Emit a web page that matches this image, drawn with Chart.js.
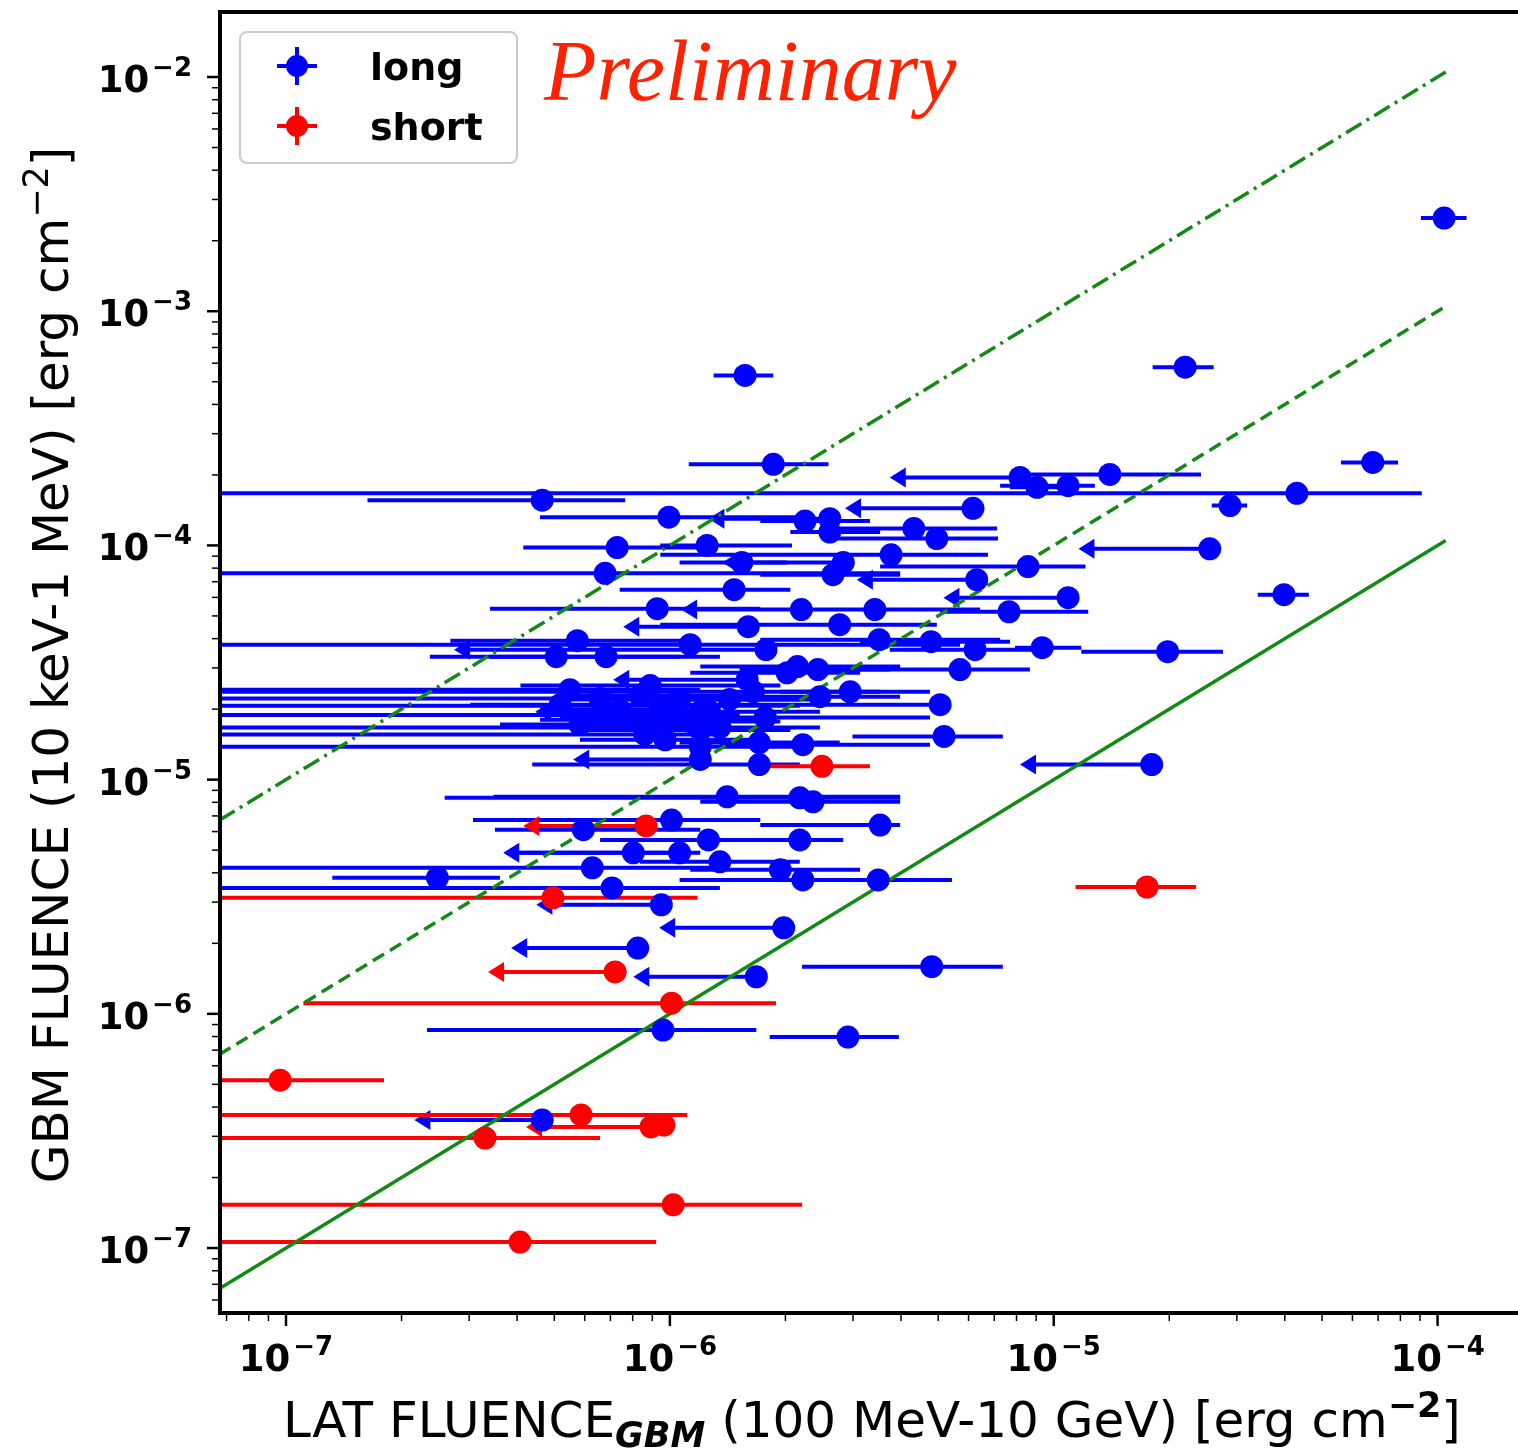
<!DOCTYPE html>
<html>
<head>
<meta charset="utf-8">
<script src="https://cdn.jsdelivr.net/npm/chart.js@4.4.1/dist/chart.umd.min.js"></script>
<style>
  html, body { margin: 0; padding: 0; background: #fff; }
</style>
</head>
<body>
<canvas id="chart" width="1518" height="1451"></canvas>
<script>
// long bursts: marker position, horizontal error range, upper limit (arrow) flag
const longX = [1.04e-4, 2.20e-5, 1.57e-6, 6.78e-5, 1.86e-6, 1.40e-5, 8.17e-6, 9.05e-6, 1.09e-5, 4.30e-5,
  4.65e-7, 2.88e-5, 6.16e-6, 9.94e-7, 2.61e-6, 2.25e-6, 2.61e-6, 4.32e-6, 4.96e-6, 1.25e-6,
  7.29e-7, 3.77e-6, 1.54e-6, 2.83e-6, 2.66e-6, 6.30e-6, 8.57e-6, 6.78e-7, 2.55e-5, 1.47e-6,
  9.27e-7, 2.20e-6, 3.42e-6, 7.65e-6, 1.09e-5, 3.98e-5, 9.33e-6, 1.98e-5, 1.60e-6, 2.77e-6,
  5.74e-7, 5.06e-7, 6.82e-7, 1.13e-6, 1.78e-6, 3.51e-6, 4.79e-6, 6.24e-6, 5.70e-6, 2.15e-6,
  2.43e-6, 2.02e-6, 1.59e-6, 1.65e-6, 2.95e-6, 2.46e-6, 5.06e-6, 1.77e-6, 1.20e-6, 6.58e-7,
  8.36e-7, 9.44e-7, 7.40e-7, 1.13e-6, 5.83e-7, 1.35e-6, 8.60e-7, 9.72e-7, 1.20e-6, 1.71e-6,
  2.22e-6, 5.18e-6, 1.20e-6, 1.71e-6, 1.80e-5, 1.41e-6, 2.18e-6, 2.36e-6, 1.01e-6, 3.53e-6,
  5.95e-7, 1.26e-6, 2.18e-6, 8.03e-7, 1.06e-6, 1.35e-6, 6.28e-7, 1.94e-6, 2.48e-7, 2.22e-6,
  3.49e-6, 7.07e-7, 9.50e-7, 1.98e-6, 8.25e-7, 1.68e-6, 4.81e-6, 9.60e-7, 2.91e-6, 4.65e-7,
  5.18e-7, 6.58e-7, 8.36e-7, 1.06e-6, 1.27e-6, 1.43e-6, 5.49e-7, 1.20e-6, 8.89e-7]
const longY = [2.50e-3, 5.77e-4, 5.32e-4, 2.26e-4, 2.22e-4, 2.01e-4, 1.95e-4, 1.77e-4, 1.80e-4, 1.67e-4,
  1.56e-4, 1.48e-4, 1.44e-4, 1.32e-4, 1.30e-4, 1.27e-4, 1.14e-4, 1.18e-4, 1.07e-4, 1.00e-4,
  9.79e-5, 9.12e-5, 8.45e-5, 8.45e-5, 7.50e-5, 7.14e-5, 8.12e-5, 7.60e-5, 9.67e-5, 6.47e-5,
  5.37e-5, 5.32e-5, 5.32e-5, 5.21e-5, 5.98e-5, 6.16e-5, 3.66e-5, 3.52e-5, 4.50e-5, 4.59e-5,
  3.92e-5, 3.35e-5, 3.35e-5, 3.77e-5, 3.59e-5, 3.96e-5, 3.88e-5, 3.59e-5, 2.95e-5, 3.04e-5,
  2.95e-5, 2.86e-5, 2.67e-5, 2.37e-5, 2.37e-5, 2.26e-5, 2.09e-5, 1.84e-5, 1.95e-5, 2.22e-5,
  2.28e-5, 2.07e-5, 1.99e-5, 1.77e-5, 1.72e-5, 1.67e-5, 1.56e-5, 1.48e-5, 1.38e-5, 1.44e-5,
  1.41e-5, 1.53e-5, 1.22e-5, 1.16e-5, 1.16e-5, 8.45e-6, 8.36e-6, 8.04e-6, 6.72e-6, 6.40e-6,
  6.11e-6, 5.53e-6, 5.53e-6, 4.87e-6, 4.87e-6, 4.46e-6, 4.20e-6, 4.12e-6, 3.81e-6, 3.73e-6,
  3.73e-6, 3.45e-6, 2.92e-6, 2.33e-6, 1.91e-6, 1.44e-6, 1.59e-6, 8.53e-7, 7.96e-7, 3.52e-7,
  2.09e-5, 1.89e-5, 1.80e-5, 2.20e-5, 1.95e-5, 2.20e-5, 2.42e-5, 1.63e-5, 2.52e-5]
const longXLo = [9.05e-5, 1.81e-5, 1.30e-6, 5.60e-5, 1.12e-6, 8.42e-6, 3.74e-6, 7.69e-6, 7.25e-6, 5e-8,
  1.63e-7, 2.58e-5, 2.86e-6, 4.59e-7, 1.26e-6, 1.72e-6, 2.06e-6, 2.77e-6, 2.74e-6, 9.44e-7,
  4.15e-7, 9.44e-7, 1.06e-6, 1.37e-6, 1.72e-6, 3.07e-6, 3.53e-6, 5e-8, 1.16e-5, 7.40e-7,
  3.40e-7, 1.07e-6, 2.18e-6, 5.06e-6, 5.16e-6, 3.40e-5, 7.93e-6, 1.18e-5, 7.56e-7, 9.44e-7,
  2.68e-7, 2.37e-7, 3.40e-7, 5e-8, 2.74e-7, 1.72e-6, 3.13e-6, 3.74e-6, 2.95e-6, 1.20e-6,
  1.52e-6, 1.13e-6, 7.12e-7, 5e-8, 1.94e-6, 1.35e-6, 9.44e-7, 5.18e-7, 4.46e-7, 5e-8,
  5.18e-7, 5e-8, 4.59e-7, 6.20e-7, 3.61e-7, 5e-8, 5e-8, 5.83e-7, 5e-8, 1.06e-6,
  1.35e-6, 2.99e-6, 5.60e-7, 4.38e-7, 8.17e-6, 3.47e-7, 2.59e-7, 1.20e-6, 3.07e-7, 1.72e-6,
  3.50e-7, 6.58e-7, 1.54e-6, 4.08e-7, 3.68e-7, 8.36e-7, 5e-8, 1.13e-6, 1.32e-7, 1.06e-6,
  2.18e-6, 5e-8, 4.49e-7, 9.38e-7, 3.86e-7, 8.03e-7, 2.21e-6, 2.33e-7, 1.82e-6, 2.16e-7,
  3.02e-7, 5e-8, 4.59e-7, 5.18e-7, 6.58e-7, 8.36e-7, 5e-8, 5.83e-7, 4.08e-7]
const longXHi = [1.19e-4, 2.61e-5, 1.86e-6, 7.89e-5, 2.59e-6, 2.42e-5, 8.17e-6, 1.04e-5, 1.28e-5, 9.10e-5,
  7.65e-7, 3.19e-5, 6.16e-6, 2.18e-6, 2.61e-6, 3.32e-6, 3.53e-6, 7.12e-6, 7.16e-6, 2.08e-6,
  1.18e-6, 6.74e-6, 2.02e-6, 2.83e-6, 3.98e-6, 6.30e-6, 1.21e-5, 3.98e-6, 2.55e-5, 2.06e-6,
  1.72e-6, 2.20e-6, 6.43e-6, 1.23e-5, 1.09e-5, 4.62e-5, 1.18e-5, 2.76e-5, 1.60e-6, 4.96e-6,
  1.20e-6, 1.06e-6, 1.35e-6, 5.70e-6, 1.78e-6, 7.25e-6, 7.69e-6, 9.78e-6, 8.67e-6, 3.98e-6,
  3.74e-6, 3.13e-6, 1.59e-6, 3.53e-6, 4.76e-6, 3.98e-6, 5.37e-6, 4.76e-6, 1.20e-6, 1.43e-6,
  1.72e-6, 2.18e-6, 1.35e-6, 1.94e-6, 1.13e-6, 2.46e-6, 1.35e-6, 1.72e-6, 2.18e-6, 2.77e-6,
  4.76e-6, 7.37e-6, 1.20e-6, 2.18e-6, 1.80e-5, 3.98e-6, 3.98e-6, 3.98e-6, 1.72e-6, 3.98e-6,
  1.20e-6, 2.06e-6, 2.83e-6, 1.20e-6, 1.06e-6, 2.18e-6, 1.35e-6, 3.13e-6, 3.61e-7, 3.32e-6,
  5.43e-6, 1.35e-6, 9.50e-7, 1.98e-6, 8.25e-7, 1.68e-6, 7.37e-6, 1.68e-6, 3.95e-6, 4.65e-7,
  9.44e-7, 1.52e-6, 1.72e-6, 2.18e-6, 2.46e-6, 2.61e-6, 1.20e-6, 2.06e-6, 1.94e-6]
const longUL = [0, 0, 0, 0, 0, 0, 1, 0, 0, 0,
  0, 0, 1, 0, 1, 0, 0, 0, 0, 0,
  0, 0, 0, 1, 0, 1, 0, 0, 1, 0,
  0, 1, 0, 0, 1, 0, 0, 0, 1, 0,
  0, 0, 0, 0, 1, 0, 0, 0, 0, 0,
  0, 0, 1, 0, 0, 0, 0, 0, 1, 0,
  0, 0, 0, 0, 0, 0, 0, 0, 0, 0,
  0, 0, 1, 0, 1, 0, 0, 0, 0, 0,
  0, 0, 0, 0, 1, 0, 0, 0, 0, 0,
  0, 0, 1, 1, 1, 1, 0, 0, 0, 1,
  0, 0, 0, 0, 0, 0, 0, 0, 0]

// short bursts
const shortX = [2.49e-6, 1.75e-5, 8.67e-7, 4.96e-7, 7.20e-7, 1.01e-6, 9.65e-8, 5.87e-7, 8.93e-7, 9.65e-7, 3.30e-7, 1.02e-6, 4.07e-7]
const shortY = [1.14e-5, 3.48e-6, 6.34e-6, 3.13e-6, 1.51e-6, 1.11e-6, 5.21e-7, 3.70e-7, 3.29e-7, 3.35e-7, 2.95e-7, 1.53e-7, 1.06e-7]
const shortXLo = [1.82e-6, 1.14e-5, 4.15e-7, 5e-8, 3.36e-7, 1.11e-7, 5e-8, 5e-8, 4.22e-7, 9.65e-7, 5e-8, 5e-8, 5e-8]
const shortXHi = [3.32e-6, 2.35e-5, 8.67e-7, 1.18e-6, 7.20e-7, 1.89e-6, 1.80e-7, 1.11e-6, 8.93e-7, 9.65e-7, 6.58e-7, 2.21e-6, 9.21e-7]
const shortUL = [0, 0, 1, 0, 1, 0, 0, 0, 1, 0, 0, 0, 0]

// reference lines GBM = k * LAT
const lineX = [6.7e-8, 1.05e-4]
const lineRatios = [1, 10, 100]

const xRange = [6.73e-8, 1.62e-4]
const yRange = [5.28e-8, 1.895e-2]
const xTickExps = [-7, -6, -5, -4]
const yTickExps = [-7, -6, -5, -4, -3, -2]

const BLUE = "#0000ff"
const RED = "#ff0000"
const GREEN = "#138a13"

function drawBars(ctx, xs, ys, X, Y, lo, hi, ul, color) {
  ctx.strokeStyle = color
  ctx.fillStyle = color
  ctx.lineWidth = 4
  X.forEach((v, i) => {
    const py = ys.getPixelForValue(Y[i])
    let x0 = xs.getPixelForValue(lo[i])
    const x1 = xs.getPixelForValue(hi[i])
    if (ul[i]) {
      ctx.beginPath()
      ctx.moveTo(x0, py)
      ctx.lineTo(x0 + 16, py - 10)
      ctx.lineTo(x0 + 16, py + 10)
      ctx.closePath()
      ctx.fill()
      x0 += 10
    }
    ctx.beginPath()
    ctx.moveTo(x0, py)
    ctx.lineTo(x1, py)
    ctx.stroke()
  })
}

function drawPow(ctx, e, x, y, align) {
  const base = "10"
  const sup = "\u2212" + Math.abs(e)
  ctx.font = "bold 37px 'DejaVu Sans'"
  const wb = ctx.measureText(base).width
  ctx.font = "bold 26px 'DejaVu Sans'"
  const ws = ctx.measureText(sup).width
  const w = wb + 3 + ws
  const left = align === "center" ? x - w / 2 : x - w
  ctx.textAlign = "left"
  ctx.textBaseline = "alphabetic"
  ctx.font = "bold 37px 'DejaVu Sans'"
  ctx.fillText(base, left, y)
  ctx.font = "bold 26px 'DejaVu Sans'"
  ctx.fillText(sup, left + wb + 3, y - 16)
}

// draws a run of [text, font, dy] parts centred on x
function drawParts(ctx, parts, cx, y) {
  let total = 0
  parts.forEach(p => { ctx.font = p[1]; total += ctx.measureText(p[0]).width })
  let px = cx - total / 2
  ctx.textAlign = "left"
  ctx.textBaseline = "alphabetic"
  parts.forEach(p => {
    ctx.font = p[1]
    ctx.fillText(p[0], px, y + p[2])
    px += ctx.measureText(p[0]).width
  })
}

const errorBars = {
  id: "errorBars",
  beforeDatasetsDraw(chart) {
    const { ctx, chartArea: a, scales: { x, y } } = chart
    ctx.save()
    ctx.beginPath()
    ctx.rect(a.left, a.top, a.right - a.left, a.bottom - a.top)
    ctx.clip()
    drawBars(ctx, x, y, longX, longY, longXLo, longXHi, longUL, BLUE)
    drawBars(ctx, x, y, shortX, shortY, shortXLo, shortXHi, shortUL, RED)
    ctx.restore()
  }
}

const decorations = {
  id: "decorations",
  afterDraw(chart) {
    const { ctx, chartArea: a, scales: { x, y } } = chart
    ctx.save()

    // frame (left, top, bottom)
    ctx.strokeStyle = "#000"
    ctx.lineWidth = 4
    ctx.beginPath()
    ctx.moveTo(chart.width, a.top)
    ctx.lineTo(a.left, a.top)
    ctx.lineTo(a.left, a.bottom)
    ctx.lineTo(chart.width, a.bottom)
    ctx.stroke()

    // log ticks
    for (let d = -9; d <= -1; d++) {
      for (let k = 1; k <= 9; k++) {
        const v = k * Math.pow(10, d)
        const major = k === 1
        ctx.lineWidth = major ? 2.5 : 1.5
        const len = major ? 11 : 6
        if (v >= x.min && v <= x.max) {
          const px = x.getPixelForValue(v)
          ctx.beginPath()
          ctx.moveTo(px, a.bottom + 2)
          ctx.lineTo(px, a.bottom + 2 + len)
          ctx.stroke()
        }
        if (v >= y.min && v <= y.max) {
          const py = y.getPixelForValue(v)
          ctx.beginPath()
          ctx.moveTo(a.left - 2, py)
          ctx.lineTo(a.left - 2 - len, py)
          ctx.stroke()
        }
      }
    }

    ctx.fillStyle = "#000"
    xTickExps.forEach(e => drawPow(ctx, e, x.getPixelForValue(Math.pow(10, e)), a.bottom + 58, "center"))
    yTickExps.forEach(e => drawPow(ctx, e, 192, y.getPixelForValue(Math.pow(10, e)) + 15, "right"))

    // axis titles
    const reg = "50px 'DejaVu Sans'"
    drawParts(ctx, [
      ["LAT FLUENCE", reg, 0],
      ["GBM", "italic bold 35px 'DejaVu Sans'", 10],
      [" (100 MeV-10 GeV) [erg cm", reg, 0],
      ["\u22122", "bold 35px 'DejaVu Sans'", -20],
      ["]", reg, 0]
    ], 872, 1437)

    ctx.save()
    ctx.translate(68, 665)
    ctx.rotate(-Math.PI / 2)
    drawParts(ctx, [
      ["GBM FLUENCE (10 keV-1 MeV) [erg cm", reg, 0],
      ["\u22122", "35px 'DejaVu Sans'", -20],
      ["]", reg, 0]
    ], 0, 0)
    ctx.restore()

    // legend
    ctx.fillStyle = "rgba(255,255,255,0.85)"
    ctx.strokeStyle = "#cccccc"
    ctx.lineWidth = 2
    ctx.beginPath()
    ctx.roundRect(240, 32, 277, 131, 7)
    ctx.fill()
    ctx.stroke()
    const legendRows = [["long", BLUE, 66, 80], ["short", RED, 126, 140]]
    legendRows.forEach(([label, color, my, ty]) => {
      ctx.strokeStyle = color
      ctx.fillStyle = color
      ctx.lineWidth = 4
      ctx.beginPath()
      ctx.moveTo(277, my); ctx.lineTo(317, my)
      ctx.moveTo(297, my - 19); ctx.lineTo(297, my + 19)
      ctx.stroke()
      ctx.beginPath()
      ctx.arc(297, my, 11, 0, Math.PI * 2)
      ctx.fill()
      ctx.fillStyle = "#000"
      ctx.font = "bold 38px 'DejaVu Sans'"
      ctx.textAlign = "left"
      ctx.fillText(label, 370, ty)
    })

    // watermark
    ctx.fillStyle = "#ff2200"
    ctx.font = "italic 86px 'Liberation Serif'"
    ctx.textAlign = "left"
    ctx.fillText("Preliminary", 544, 100)

    ctx.restore()
  }
}

const lineStyles = { 1: [], 10: [13, 7], 100: [18, 6, 3, 6] }

const ctx = document.getElementById("chart").getContext("2d")
new Chart(ctx, {
  type: "scatter",
  data: {
    datasets: [
      ...lineRatios.map(r => ({
        type: "line",
        data: lineX.map(v => ({ x: v, y: v * r })),
        borderColor: GREEN,
        borderWidth: 3.5,
        borderDash: lineStyles[r],
        pointRadius: 0,
        fill: false,
        order: 3
      })),
      {
        label: "long",
        data: longX.map((v, i) => ({ x: v, y: longY[i] })),
        backgroundColor: BLUE,
        borderWidth: 0,
        pointRadius: 11.5,
        order: 2
      },
      {
        label: "short",
        data: shortX.map((v, i) => ({ x: v, y: shortY[i] })),
        backgroundColor: RED,
        borderWidth: 0,
        pointRadius: 11.5,
        order: 1
      }
    ]
  },
  options: {
    responsive: false,
    devicePixelRatio: 1,
    animation: false,
    layout: { autoPadding: false, padding: { top: 12, right: 0, bottom: 0, left: 0 } },
    plugins: {
      legend: { display: false },
      tooltip: { enabled: false }
    },
    scales: {
      x: {
        type: "logarithmic",
        min: xRange[0],
        max: xRange[1],
        ticks: { display: false },
        grid: { display: false },
        border: { display: false },
        afterFit: s => { s.height = 138 }
      },
      y: {
        type: "logarithmic",
        min: yRange[0],
        max: yRange[1],
        ticks: { display: false },
        grid: { display: false },
        border: { display: false },
        afterFit: s => { s.width = 220 }
      }
    }
  },
  plugins: [errorBars, decorations]
})
</script>
</body>
</html>
